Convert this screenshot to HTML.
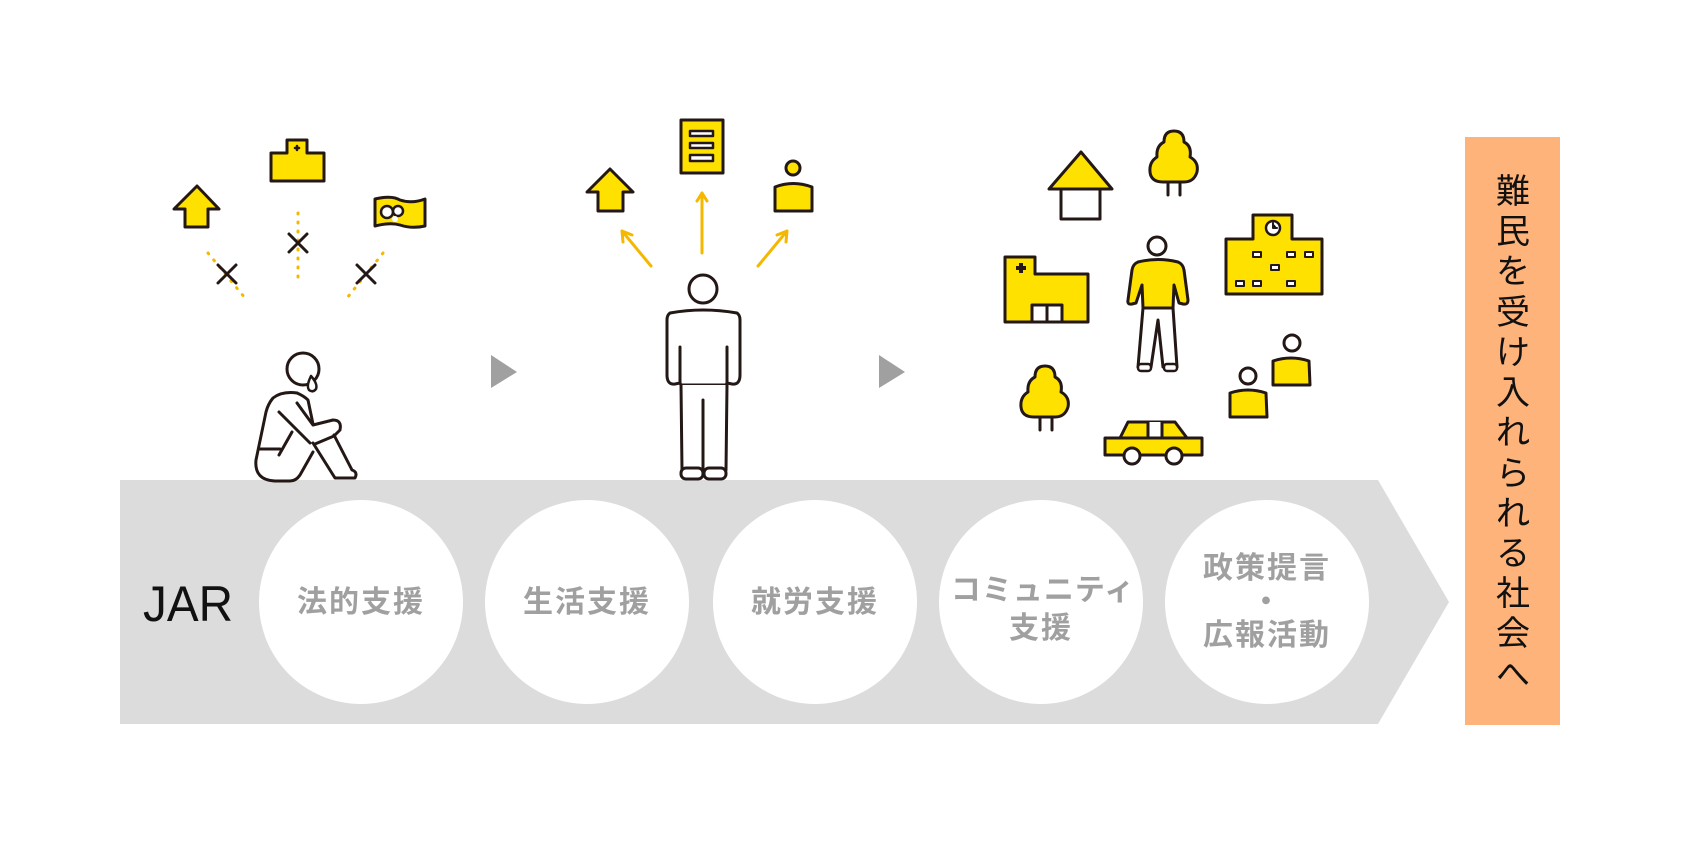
<!DOCTYPE html>
<html><head><meta charset="utf-8"><style>
html,body{margin:0;padding:0;background:#fff;width:1681px;height:844px;overflow:hidden}
svg{display:block}
.ct{font-family:"Liberation Sans","Noto Sans CJK JP",sans-serif;font-weight:bold;fill:#a0a0a0;font-size:30px;letter-spacing:2px}
.ot{font-family:"Liberation Sans","Noto Sans CJK JP",sans-serif;fill:#111;font-size:34px}
</style></head><body>
<svg width="1681" height="844" viewBox="0 0 1681 844" xmlns="http://www.w3.org/2000/svg">
<g stroke="#231815" stroke-width="3" stroke-linejoin="round" stroke-linecap="round">
<!-- band -->
<polygon points="120,480 1378,480 1449,602 1378,724 120,724" fill="#dcdcdc" stroke="none"/>
<g fill="#fff" stroke="none">
<circle cx="361" cy="602" r="102"/><circle cx="587" cy="602" r="102"/><circle cx="815" cy="602" r="102"/><circle cx="1041" cy="602" r="102"/><circle cx="1267" cy="602" r="102"/>
</g>
<!-- orange box -->
<rect x="1465" y="137" width="95" height="588" fill="#fdb37a" stroke="none"/>
<!-- gray arrows -->
<polygon points="491,355 517,372 491,388" fill="#a0a0a0" stroke="none"/>
<polygon points="879,355 905,372 879,388" fill="#a0a0a0" stroke="none"/>

<!-- LEFT group -->
<polygon points="197,186 219,209 208,209 208,227 185,227 185,209 174,209" fill="#ffe100"/>
<path d="M287,140 H307 V153 H324 V181 H271 V153 H287 Z" fill="#ffe100"/>
<path d="M295,148 H299 M297,146 V150" stroke-width="2.5"/>
<path d="M375,199 Q392,195 400,200 Q412,204 425,199 V226 Q412,229 400,225 Q390,222 375,226 Z" fill="#ffe100"/>
<circle cx="387" cy="212" r="6" fill="#fff" stroke-width="2.5"/><circle cx="398" cy="211" r="5" fill="#fff" stroke-width="2.5"/><circle cx="395" cy="219" r="3" fill="#fff" stroke="none"/>
<g stroke="#f5b800" stroke-width="3" stroke-dasharray="1 8">
<line x1="208" y1="253" x2="245" y2="298"/><line x1="298" y1="213" x2="298" y2="283"/><line x1="383" y1="253" x2="347" y2="298"/>
</g>
<g stroke-width="3">
<path d="M218,265 L236,283 M236,265 L218,283"/><path d="M289,234 L307,252 M307,234 L289,252"/><path d="M357,265 L375,283 M375,265 L357,283"/>
</g>
<!-- sitting person -->
<g fill="none">
<circle cx="303" cy="369" r="16" fill="#fff"/>
<path d="M311,376 Q306,386 309,390 Q313,393 316,389 Q318,384 311,376 Z" fill="#fff" stroke-width="2.5"/>
<path d="M297,393 Q282,391 273,398 Q268,404 266,412 L256,460 Q254,480 275,481 L290,481 Q296,481 300,475 L313,452"/>
<path d="M297,393 Q304,396 308,400 L313,424"/>
<path d="M297,403 L313,425 L333,420 Q342,420 340,430 L334,436 L315,444"/>
<path d="M279,412 L310,443"/>
<path d="M313,443 L335,478 L355,478 Q358,472 352,470 L334,435"/>
<path d="M260,449 L280,449 M279,455 L292,432"/>
</g>

<!-- MIDDLE group -->
<polygon points="610,169 633,192 623,192 623,211 598,211 598,192 587,192" fill="#ffe100"/>
<rect x="681" y="120" width="42" height="53" fill="#ffe100"/>
<rect x="690" y="131" width="23" height="5" fill="#fff" stroke-width="2.5"/>
<rect x="690" y="143" width="23" height="5" fill="#fff" stroke-width="2.5"/>
<rect x="690" y="155" width="23" height="6" fill="#fff" stroke-width="2.5"/>
<circle cx="793" cy="168" r="7" fill="#ffe100"/>
<path d="M775,211 V187 Q793,180 812,187 V211 Z" fill="#ffe100"/>
<g stroke="#f5b800" stroke-width="3" fill="none">
<path d="M651,266 L622,231 M622,231 L623,242 M622,231 L632,235"/>
<path d="M702,253 V193 M702,193 L697,201 M702,193 L707,201"/>
<path d="M758,266 L787,231 M787,231 L777,235 M787,231 L786,242"/>
</g>
<!-- standing person -->
<circle cx="703" cy="289" r="14" fill="#fff"/>
<path d="M670,313 Q703,307 737,313 Q740,315 740,320 L740,375 Q740,385 732,384 L727,383 L726,385 L681,385 L680,383 L675,384 Q667,385 667,375 L667,320 Q667,315 670,313 Z" fill="#fff"/>
<path d="M680,347 V383 M727,347 V383"/>
<path d="M681,385 L682,470 L726,470 L727,385 M703,400 V470" fill="#fff"/>
<rect x="681" y="468" width="22" height="11" rx="5" fill="#fff"/><rect x="704" y="468" width="22" height="11" rx="5" fill="#fff"/>

<!-- RIGHT group -->
<polygon points="1081,152 1112,189 1049,189" fill="#ffe100"/>
<rect x="1061" y="189" width="39" height="30" fill="#fff"/>
<path d="M1174,131 Q1184,131 1184,142 Q1192,146 1190,157 Q1199,162 1197,172 Q1194,182 1184,182 L1163,182 Q1151,182 1150,172 Q1149,162 1157,157 Q1156,146 1164,142 Q1164,131 1174,131 Z" fill="#ffe100"/>
<path d="M1168,182 V195 M1180,182 V195"/>
<path d="M1253,215 H1292 V239 H1322 V294 H1226 V239 H1253 Z" fill="#ffe100"/>
<circle cx="1273" cy="228" r="7" fill="#fff" stroke-width="2.5"/><path d="M1273,223 V228 H1277" stroke-width="2"/>
<g fill="#fff" stroke-width="2">
<rect x="1253" y="252" width="8" height="5"/><rect x="1287" y="252" width="8" height="5"/><rect x="1305" y="252" width="8" height="5"/>
<rect x="1271" y="265" width="8" height="5"/>
<rect x="1236" y="281" width="8" height="5"/><rect x="1253" y="281" width="8" height="5"/><rect x="1287" y="281" width="8" height="5"/>
</g>
<path d="M1005,257 H1035 V274 H1088 V322 H1005 Z" fill="#ffe100"/>
<path d="M1016,268 H1026 M1021,263 V273" stroke-width="4" stroke-linecap="butt"/>
<rect x="1032" y="305" width="30" height="17" fill="#fff"/><path d="M1047,305 V322"/>
<circle cx="1157" cy="246" r="9" fill="#fff"/>
<path d="M1143,308 L1138,367 L1151,367 L1158,320 L1163,367 L1177,367 L1173,308 Z" fill="#fff"/>
<path d="M1138,262 Q1158,257 1178,262 Q1183,264 1184,270 L1188,300 Q1188,305 1183,304 L1179,303 L1174,285 L1173,308 L1143,308 L1142,285 L1136,303 L1132,304 Q1127,305 1128,300 L1132,270 Q1133,264 1138,262 Z" fill="#ffe100"/>
<rect x="1138" y="364" width="13" height="7" rx="3" fill="#fff" stroke-width="2.5"/><rect x="1164" y="364" width="13" height="7" rx="3" fill="#fff" stroke-width="2.5"/>
<path d="M1045,366 Q1055,366 1055,377 Q1063,381 1061,392 Q1070,397 1068,407 Q1065,417 1055,417 L1034,417 Q1022,417 1021,407 Q1020,397 1028,392 Q1027,381 1035,377 Q1035,366 1045,366 Z" fill="#ffe100"/>
<path d="M1040,417 V430 M1052,417 V430"/>
<path d="M1128,422 H1175 L1187,438 H1202 V455 H1105 V438 H1120 Z" fill="#ffe100"/>
<path d="M1148,422 V438 H1162 V422 M1120,438 H1187" fill="#fff"/>
<circle cx="1132" cy="456" r="8" fill="#fff"/><circle cx="1174" cy="456" r="8" fill="#fff"/>
<circle cx="1292" cy="343" r="8" fill="#fff"/>
<path d="M1273,385 V361 Q1291,355 1309,361 L1310,385 Z" fill="#ffe100"/>
<circle cx="1248" cy="376" r="8" fill="#fff"/>
<path d="M1230,417 V393 Q1248,387 1266,393 L1267,417 Z" fill="#ffe100"/>
</g>

<!-- texts -->
<text x="143" y="621" font-family="Liberation Sans, sans-serif" font-size="50" fill="#111" textLength="90" lengthAdjust="spacingAndGlyphs" style="font-weight:300">JAR</text>
<g class="ct" text-anchor="middle">
<text x="361" y="612">法的支援</text>
<text x="587" y="612">生活支援</text>
<text x="815" y="612">就労支援</text>
<text x="1043" y="600" style="letter-spacing:1px">コミュニティ</text>
<text x="1041" y="638">支援</text>
<text x="1267" y="578">政策提言</text>
<text x="1267" y="612">・</text>
<text x="1267" y="645">広報活動</text>
</g>
<g class="ot" text-anchor="middle">
<text x="1513" y="203">難</text><text x="1513" y="243">民</text><text x="1513" y="283">を</text><text x="1513" y="324">受</text><text x="1513" y="364">け</text><text x="1513" y="404">入</text><text x="1513" y="444">れ</text><text x="1513" y="485">ら</text><text x="1513" y="525">れ</text><text x="1513" y="565">る</text><text x="1513" y="605">社</text><text x="1513" y="645">会</text><text x="1513" y="686">へ</text>
</g>
</svg>
</body></html>
